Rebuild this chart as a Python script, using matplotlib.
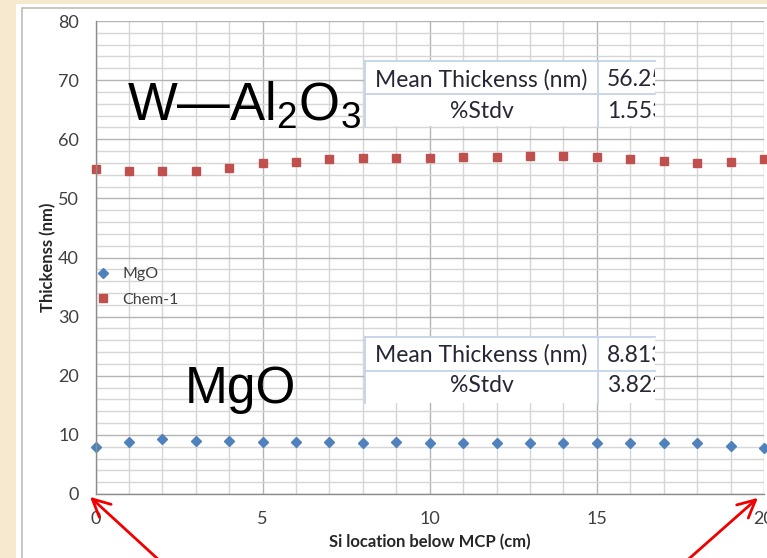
import numpy as np
import matplotlib.pyplot as plt
from matplotlib.patches import Rectangle, FancyArrowPatch
from matplotlib.lines import Line2D
from matplotlib.transforms import Bbox, TransformedBbox
from matplotlib.ticker import MultipleLocator

plt.rcParams['mathtext.fontset'] = 'custom'
plt.rcParams['mathtext.rm'] = 'Liberation Sans'
plt.rcParams['mathtext.it'] = 'Liberation Sans'

# measured thickness along the Si strip
pos_cm = [0, 1, 2, 3, 4, 5, 6, 7, 8, 9, 10, 11, 12, 13, 14, 15, 16, 17, 18, 19, 20]
mgo = [8.0, 8.8, 9.25, 9.0, 8.9, 8.8, 8.8, 8.8, 8.7, 8.75, 8.7,
       8.7, 8.7, 8.7, 8.7, 8.7, 8.7, 8.7, 8.7, 8.2, 7.7]
chem1 = [54.9, 54.6, 54.6, 54.7, 55.1, 56.0, 56.2, 56.7, 56.8, 56.8, 56.9,
         57.05, 57.0, 57.2, 57.15, 57.0, 56.7, 56.3, 56.0, 56.2, 56.6]

row_labels = ['Mean Thickenss (nm)', '%Stdv']
chem1_stats = ['56.25', '1.553']
mgo_stats = ['8.813', '3.822']

W, H = 767, 558
fig = plt.figure(figsize=(W / 100, H / 100), dpi=100)
fig.patch.set_facecolor('#f6e9cf')


def fx(x):
    return x / W


def fy(y):
    return 1 - y / H


# slide backdrop: white chart area with a thin grey frame
fig.patches.append(Rectangle((fx(16), 0), 1, fy(4), transform=fig.transFigure,
                             facecolor='white', edgecolor='none', zorder=-2))
fig.patches.append(Rectangle((fx(21.5), -0.1), 1, fy(8.5) + 0.1, transform=fig.transFigure,
                             facecolor='none', edgecolor='#bdbdbd', lw=1.2, zorder=-1))

ax = fig.add_axes([fx(95.5), fy(494), fx(764) - fx(95.5), fy(21) - fy(494)])
ax.set_zorder(1)
ax.set_facecolor('white')
ax.set_xlim(0, 20)
ax.set_ylim(0, 80)
ax.xaxis.set_major_locator(MultipleLocator(5))
ax.xaxis.set_minor_locator(MultipleLocator(1))
ax.yaxis.set_major_locator(MultipleLocator(10))
ax.yaxis.set_minor_locator(MultipleLocator(2))
ax.grid(which='major', color='#b4b4b4', lw=1)
ax.grid(which='minor', color='#d6d6d6', lw=1)
ax.set_axisbelow(True)
ax.tick_params(which='both', length=0)
ax.tick_params(axis='y', pad=12, labelsize=13, labelcolor='#404040')
ax.tick_params(axis='x', pad=12, labelsize=13, labelcolor='#404040')
for lab in ax.get_xticklabels() + ax.get_yticklabels():
    lab.set_fontfamily('Lato')
for s in ['top', 'right']:
    ax.spines[s].set_visible(False)
for s in ['left', 'bottom']:
    ax.spines[s].set_color('#8c8c8c')
    ax.spines[s].set_linewidth(1)

ax.plot(pos_cm, mgo, ls='none', marker='D', ms=5, color='#4f81bd', label='MgO', clip_on=False)
ax.plot(pos_cm, chem1, ls='none', marker='s', ms=6, color='#c0504d', label='Chem-1', clip_on=False)

ax.set_xlabel('Si location below MCP (cm)', fontfamily='Lato', fontweight='bold',
              fontsize=12, color='#262626', labelpad=5)
ax.set_ylabel('Thickenss (nm)', fontfamily='Lato', fontweight='bold',
              fontsize=12, color='#262626', labelpad=1)

ax.legend(loc='upper left', bbox_to_anchor=(fx(88), fy(259)), bbox_transform=fig.transFigure,
          frameon=False, prop={'family': 'Lato', 'size': 11.5}, labelcolor='#404040',
          handlelength=0.9, handletextpad=0.75, labelspacing=0.7, borderpad=0)

# big material labels
fig.text(fx(127), fy(120), 'W—Al$_2$O$_3$', fontfamily='Liberation Sans', fontsize=38,
         color='black', ha='left', va='baseline', zorder=3)
fig.text(fx(185), fy(403), 'MgO', fontfamily='Liberation Sans', fontsize=37,
         color='black', ha='left', va='baseline', zorder=3)


def stats_table(top, mid, bottom, values, text_y):
    x0, xc, x1 = 365, 598, 655
    fig.patches.append(Rectangle((fx(x0), fy(bottom)), fx(x1) - fx(x0), fy(top) - fy(bottom),
                                 transform=fig.transFigure, facecolor='white',
                                 edgecolor='none', zorder=4))
    border = '#c5d3e8'
    for xs, ys in [((x0, x1), (top, top)), ((x0, x1), (mid, mid)),
                   ((x0, x0), (top, bottom)), ((xc, xc), (top, bottom))]:
        fig.lines.append(Line2D([fx(v) for v in xs], [fy(v) for v in ys],
                                transform=fig.transFigure, color=border, lw=1.3, zorder=5))
    clip = TransformedBbox(Bbox([[fx(x0), fy(bottom)], [fx(x1), fy(top)]]), fig.transFigure)
    for lab, val, ty in zip(row_labels, values, text_y):
        fig.text(fx((x0 + xc) / 2), fy(ty), lab, fontfamily='Lato', fontsize=16.5,
                 color='#262636', ha='center', va='center', zorder=6)
        t = fig.text(fx(607), fy(ty), val, fontfamily='Lato', fontsize=16.5,
                     color='#262636', ha='left', va='center', zorder=6)
        t.set_clip_on(True)
        t.set_clip_box(clip)


stats_table(61, 94, 126, chem1_stats, [80, 112])
stats_table(337, 371, 403, mgo_stats, [355, 386])

# red arrows pointing at both ends of the strip
for tip, tail in [((88, 495), (172, 572)), ((760, 496), (674, 572))]:
    fig.add_artist(FancyArrowPatch(
        (fx(tail[0]), fy(tail[1])), (fx(tip[0]), fy(tip[1])), transform=fig.transFigure,
        arrowstyle='->,head_length=0.7,head_width=0.35', mutation_scale=18,
        color='#f00000', lw=2, zorder=7))

fig.savefig('out.png', dpi=100)
